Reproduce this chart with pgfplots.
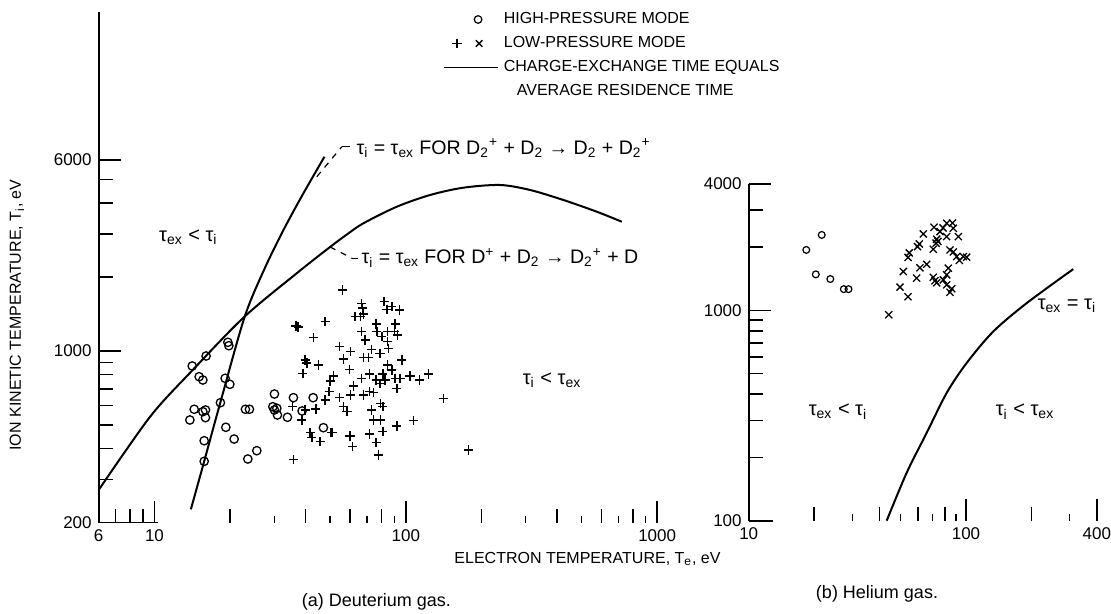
\documentclass[border=0pt]{standalone}
\usepackage{pgfplots}
\pgfplotsset{compat=1.18}
\usepackage{fontspec}
\setmainfont{Liberation Sans}
\newcommand{\tsub}[1]{\textsubscript{#1}}
\begin{document}
\begin{tikzpicture}
\useasboundingbox (0,0) rectangle (555.5pt,307pt);

% ---------------- (a) Deuterium ----------------
\begin{axis}[
  scale only axis, xmode=log, ymode=log,
  axis lines=left, axis line style={-, line width=0.9pt},
  x axis line style={draw=none},
  tick align=inside, clip=false,
  major tick length=11pt, minor tick length=7pt,
  tick style={black, line width=0.7pt},
  ticklabel style={font=\fontsize{8.5}{10}\selectfont},
  at={(49.35pt,45.7pt)}, anchor=south west,
  width=317.05pt, height=255.2pt,
  xmin=6, xmax=2000, ymin=200, ymax=24000,
  xtick={6,10,100,1000}, xticklabels={6,10,100,1000},
  minor xtick={7,8,9,20,40,60,80,200,400,600,800},
  extra x ticks={30,50,70,90,300,500,700,900},
  extra x tick labels={},
  extra x tick style={major tick length=3.5pt},
  ytick={200,1000,6000}, yticklabels={200,1000,6000},
  minor ytick={300,400,500,600,700,800,900,2000,3000,4000,5000},
  legend cell align=left,
  legend style={at={(rel axis cs:0.543,1.0082)}, anchor=north west,
    draw=none, fill=none, inner sep=0pt, outer sep=0pt,
    font=\fontsize{8}{9}\selectfont, row sep=0.5pt, column sep=1.5pt,
    nodes={inner sep=1pt, text height=7pt, text depth=2.5pt}},
]
\addlegendimage{legend image code/.code={\draw[line width=0.6pt] (0.6cm,0cm) circle (1.9pt); \path (0cm,0cm) (0.95cm,0cm);}}
\addlegendentry{HIGH-PRESSURE MODE}
\addlegendimage{legend image code/.code={
   \draw[line width=0.7pt] plot[mark=+, mark size=2.3pt] coordinates {(0.23cm,0cm)};
   \draw[line width=0.7pt] plot[mark=x, mark size=2.3pt] coordinates {(0.62cm,0cm)};
   \path (0cm,0cm) (0.95cm,0cm);}}
\addlegendentry{LOW-PRESSURE MODE}
\addlegendimage{legend image code/.code={\draw[line width=0.9pt] (0cm,0cm) -- (0.95cm,0cm);}}
\addlegendentry{CHARGE-EXCHANGE TIME EQUALS}
\addlegendimage{empty legend}
\addlegendentry{\hspace{6.5pt}AVERAGE RESIDENCE TIME}

% curve: D2+ + D2
\addplot[no marks, smooth, line width=1pt, black, forget plot] coordinates {
 (13.96,226.5) (15.77,355.3) (18.25,612.3) (22.80,1369) (27.27,2138)
 (32.60,3111) (39.14,4389) (47.46,6185)};
% curve: D+ + D2
\addplot[no marks, smooth, line width=1pt, black, forget plot] coordinates {
 (6.0,271.6) (9.61,540) (14.09,830) (22.80,1379) (37.13,2088)
 (49.97,2653) (58.27,2982) (67.8,3313) (92.1,3871) (124.9,4320) (169.5,4627)
 (237.2,4745) (312.2,4528) (423.7,4122) (575.2,3693) (723.2,3363)};

% high-pressure (circles)
\addplot[only marks, black, forget plot, mark=o, mark size=2.1pt, mark options={line width=0.65pt}] coordinates {
 (14.13,868.8) (16.05,954.2) (19.59,1085) (19.77,1051) (15.06,785.8) (15.58,761.9)
 (19.11,774.1) (19.95,731.8) (18.30,615.9) (14.39,578.9) (15.58,566.0) (15.96,575.1)
 (15.96,535.1) (13.83,523.6) (15.77,431.0) (15.77,355.3) (19.23,488.9) (20.75,437.9)
 (23.52,363.1) (25.54,392.6) (23.01,578.9) (23.87,578.9) (30.01,668.1) (29.58,592.9)
 (30.01,575.1) (30.85,548.7) (33.81,537.0) (35.72,645.4) (38.68,569.8) (42.79,645.4)
 (47.01,487.1) (30.68,584.1)};

% low-pressure (pluses)
\addplot[only marks, black, forget plot, mark=+, mark size=2.3pt, mark options={line width=0.7pt}] coordinates {
 (55.9,1772) (66.8,1564) (67.2,1497) (62.85,1380) (66.2,1380) (67.8,1415)
 (82.0,1588) (84.05,1479) (87.98,1515) (94.3,1469) (66.8,1198) (68.9,1109)
 (76.2,1288) (76.7,1198) (80.3,1144) (84.5,1198) (90.7,1288) (90.1,1198)
 (92.9,1162) (84.5,1091) (85.3,1026) (54.4,1041) (56.5,927.8) (60.4,993.4)
 (67.8,942.6) (71.0,942.6) (73.2,1016) (79.0,978.6) (96.4,919) (59.7,842)
 (51.5,791.0) (66.8,774.1) (71.66,806) (76.2,761.9) (79.0,738.8) (81.0,806)
 (82.7,761.9) (84.5,877) (88.0,836.8) (90.7,774.1) (94.9,774.1) (92.1,704.9)
 (104.0,791) (113.3,761.9) (123.0,806) (61.9,720.4) (60.4,661.9) (54.4,645.4)
 (67.8,661.9) (71.66,682.7) (74.3,676.3) (56.5,592.9) (58.3,566) (73.2,575.1)
 (79.5,612.3) (81.0,592.9) (74.3,523.6) (79.5,523.6) (92.1,494.9) (107.2,520.2)
 (141.1,641.8) (51.2,466.5) (60.0,450.6) (61.5,407.6) (71.66,459.1) (76.2,424.6)
 (81.0,471.0) (77.8,377.0) (177.4,395.2) (36.6,1264) (37.3,1252) (47.75,1316)
 (42.9,1133) (39.76,919) (40.4,893.9) (44.9,877) (38.94,811.1) (50.0,754.9)
 (49.54,682.7) (47.75,631.7) (43.85,580.5) (35.5,592.9) (39.76,575.1) (38.58,523.6)
 (41.62,464.8) (42.28,443.5) (45.61,427.1) (50.45,464.8) (35.72,362.1)};

% leaders and labels
\draw[dashed, line width=0.6pt] (axis cs:44.26,5129) -- (axis cs:55.66,6795);
\draw[line width=0.6pt] (axis cs:55.66,6795) -- (axis cs:60.0,6795);
\node[anchor=west, font=\fontsize{9.8}{11}\selectfont, inner sep=0pt] at (axis cs:63.5,6714)
  {τ\tsub{i} = τ\tsub{ex} FOR D\tsub{2}\textsuperscript{+} + D\tsub{2} → D\tsub{2} + D\tsub{2}\textsuperscript{+}};
\draw[dashed, line width=0.6pt] (axis cs:49.97,2653) -- (axis cs:61.15,2386);
\draw[line width=0.6pt] (axis cs:61.15,2386) -- (axis cs:64.6,2386);
\node[anchor=west, font=\fontsize{9.8}{11}\selectfont, inner sep=0pt] at (axis cs:66.5,2393)
  {τ\tsub{i} = τ\tsub{ex} FOR D\textsuperscript{+} + D\tsub{2} → D\tsub{2}\textsuperscript{+} + D};
\node[font=\fontsize{10}{12}\selectfont] at (axis cs:13.64,2913) {τ\tsub{ex} < τ\tsub{i}};
\node[font=\fontsize{10}{12}\selectfont] at (axis cs:381.9,761.9) {τ\tsub{i} < τ\tsub{ex}};
\draw[line width=0.9pt] (axis cs:6,200) -- (axis cs:10.3,200);
\end{axis}

% ---------------- (b) Helium ----------------
\begin{axis}[
  scale only axis, xmode=log, ymode=log,
  axis lines=left, axis line style={-, line width=0.9pt},
  x axis line style={draw=none},
  tick align=inside, clip=false,
  major tick length=11pt, minor tick length=7pt,
  tick style={black, line width=0.7pt},
  ticklabel style={font=\fontsize{8.5}{10}\selectfont},
  at={(374.35pt,46.65pt)}, anchor=south west,
  width=174.05pt, height=168.4pt,
  xmin=10, xmax=400, ymin=100, ymax=4000,
  xtick={10,100,400}, xticklabels={10,100,400},
  minor xtick={20,40,60,80,200},
  extra x ticks={30,50,70,90,300},
  extra x tick labels={},
  extra x tick style={major tick length=3.5pt},
  ytick={100,1000,4000}, yticklabels={100,1000,4000},
  minor ytick={200,300,400,500,600,700,800,900,2000,3000},
]
\addplot[no marks, smooth, line width=1pt, black] coordinates {
 (43.15,100) (53.35,169.2) (65.95,261.9) (81.5,405.5) (100.7,562.7)
 (133.6,795) (190.3,1084) (311.7,1573)};
\addplot[only marks, black, mark=o, mark size=1.7pt, mark options={line width=0.6pt}] coordinates {
 (18.41,1941) (21.68,2287) (20.36,1485) (23.74,1411) (27.39,1263) (28.79,1263)};
\addplot[only marks, black, mark=x, mark size=2.5pt, mark options={line width=0.65pt}] coordinates {
 (44.13,954) (49.7,1291) (54.1,1162) (51.45,1531) (54.1,1788) (54.8,1879)
 (59.3,1425) (61.4,1595) (65.95,1657) (59.8,2012) (60.96,2073) (63.6,2312)
 (71.25,2488) (78.4,2470) (81.5,2599) (86.7,2607) (87.4,2461) (72.8,2089)
 (73.3,2182) (74.3,2130) (70.7,1956) (81.5,2245) (92.2,2245) (84.4,1941)
 (87.4,1899) (90.6,1804) (97.2,1804) (100.7,1792) (93.2,1730) (82.9,1589)
 (81.5,1477) (70.7,1438) (72.0,1384) (73.3,1354) (78.6,1398) (81.5,1324)
 (84.4,1220) (86.0,1268) (75.9,2371)};
\node[font=\fontsize{10}{12}\selectfont] at (axis cs:25.76,330.5) {τ\tsub{ex} < τ\tsub{i}};
\node[font=\fontsize{10}{12}\selectfont] at (axis cs:186.9,330.5) {τ\tsub{i} < τ\tsub{ex}};
\node[font=\fontsize{10}{12}\selectfont] at (axis cs:291.6,1052) {τ\tsub{ex} = τ\tsub{i}};
\draw[line width=0.9pt] (axis cs:10,100) -- (axis cs:12.9,100);
\end{axis}

\node[font=\fontsize{8}{9}\selectfont] at (293.75pt,27.5pt) {ELECTRON TEMPERATURE, T\tsub{e}, eV};
\node[rotate=90, font=\fontsize{8}{9}\selectfont] at (8.5pt,149.5pt) {ION KINETIC TEMPERATURE, T\tsub{i}, eV};
\node[font=\fontsize{9}{11}\selectfont] at (188.25pt,6.2pt) {(a) Deuterium gas.};
\node[font=\fontsize{9}{11}\selectfont] at (438.5pt,10pt) {(b) Helium gas.};
\end{tikzpicture}
\end{document}
